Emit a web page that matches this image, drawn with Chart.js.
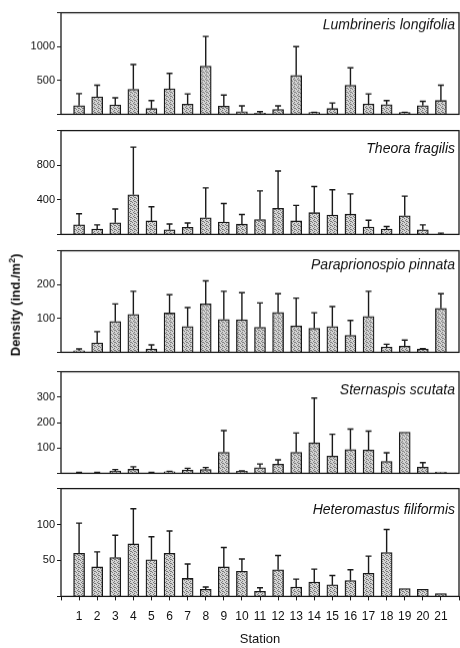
<!DOCTYPE html>
<html>
<head>
<meta charset="utf-8">
<script src="https://cdn.jsdelivr.net/npm/chart.js@4"></script>
<style>
  body { margin: 0; background: #fff; }
  #wrap { position: relative; width: 460px; height: 648px; overflow: hidden; }
  #wrap canvas { position: absolute; left: 0; }
  #ytitle {
    position: absolute; left: 15px; top: 305px;
    transform: translate(-50%, -50%) rotate(-90deg);
    white-space: nowrap;
    font: bold 13px "Liberation Sans", Arial, sans-serif; color: #111;
  }
  #ytitle sup { font-size: 9px; }
</style>
</head>
<body>
<div id="wrap">
  <canvas id="c1"></canvas>
  <canvas id="c2"></canvas>
  <canvas id="c3"></canvas>
  <canvas id="c4"></canvas>
  <canvas id="c5"></canvas>
  <div id="ytitle">Density (ind./m<sup>2</sup>)</div>
</div>
<script>
// stations along the x axis
const stations = [1, 2, 3, 4, 5, 6, 7, 8, 9, 10, 11, 12, 13, 14, 15, 16, 17, 18, 19, 20, 21];

// mean density and mean + SD (top of error bar), ind./m2
const lumbrineris    = [129, 257, 138, 371, 85, 376, 151, 712, 119, 40, 18, 71, 575, 27, 85, 429, 155, 142, 27, 129, 204];
const lumbrinerisErr = [305, 430, 244, 735, 204, 606, 301, 1150, 284, 124, 40, 124, 1000, 30, 168, 686, 301, 204, 30, 191, 430];

const theora    = [110, 61, 135, 457, 156, 54, 82, 192, 142, 118, 171, 301, 156, 251, 224, 234, 86, 61, 216, 54, 5];
const theoraErr = [238, 110, 294, 1009, 319, 121, 132, 538, 358, 230, 503, 733, 336, 553, 517, 468, 163, 92, 442, 110, 15];

const paraprionospio    = [5, 28, 91, 112, 10, 116, 76, 143, 97, 96, 74, 118, 78, 71, 76, 50, 106, 16, 18, 10, 130];
const paraprionospioErr = [10, 61, 143, 180, 22, 170, 132, 211, 180, 176, 146, 173, 160, 117, 135, 94, 180, 24, 36, 11, 173];

const sternaspis    = [0, 0, 9, 16, 0, 6, 13, 15, 83, 8, 22, 36, 83, 120, 68, 94, 92, 47, 162, 24, 5];
const sternaspisErr = [4, 4, 15, 26, 4, 8, 20, 23, 168, 10, 37, 53, 159, 296, 154, 174, 166, 81, 162, 42, 5];

const heteromastus    = [60, 41, 54, 73, 51, 60, 25, 10, 41, 35, 7, 37, 13, 20, 16, 22, 32, 61, 11, 10, 4];
const heteromastusErr = [102, 62, 85, 122, 83, 91, 45, 13, 68, 52, 12, 57, 24, 38, 29, 37, 56, 93, 11, 10, 4];

// y axis: top of scale, step, labelled ticks
const yMax   = [1500, 1200, 300, 400, 150];
const yStep  = [500, 400, 100, 100, 50];
const yShown = [[500, 1000], [400, 800], [100, 200], [100, 200, 300], [50, 100]];

const titles = ["Lumbrineris longifolia", "Theora fragilis", "Paraprionospio pinnata",
                "Sternaspis scutata", "Heteromastus filiformis"];

const FONT = '"Liberation Sans", Arial, sans-serif';

// stippled grey fill like the printed bars
function stipple() {
  const p = document.createElement("canvas");
  p.width = 4; p.height = 4;
  const g = p.getContext("2d");
  g.fillStyle = "#d4d4d4";
  g.fillRect(0, 0, 4, 4);
  g.fillStyle = "#7a7a7a";
  [[0, 0], [2, 1], [1, 2], [3, 3], [2, 3]].forEach(([x, y]) => g.fillRect(x, y, 1, 1));
  return g.createPattern(p, "repeat");
}

// upper error bars drawn from the y scale
const errorBars = {
  id: "errorBars",
  afterDatasetsDraw(chart, args, opts) {
    const ctx = chart.ctx;
    const y = chart.scales.y;
    const meta = chart.getDatasetMeta(0);
    ctx.save();
    ctx.strokeStyle = "#1a1a1a";
    ctx.lineWidth = 1.4;
    opts.tops.forEach((top, i) => {
      const bar = meta.data[i];
      if (top <= chart.data.datasets[0].data[i].y) return;
      const yt = y.getPixelForValue(top);
      ctx.beginPath();
      ctx.moveTo(bar.x, bar.y);
      ctx.lineTo(bar.x, yt);
      ctx.moveTo(bar.x - 3, yt);
      ctx.lineTo(bar.x + 3, yt);
      ctx.stroke();
    });
    ctx.restore();
  }
};

// panel frame and species name
const panelFrame = {
  id: "panelFrame",
  afterDraw(chart, args, opts) {
    const { ctx, chartArea: a } = chart;
    ctx.save();
    ctx.strokeStyle = "#1a1a1a";
    ctx.lineWidth = 1.3;
    ctx.strokeRect(a.left, a.top, a.right - a.left, a.bottom - a.top);
    ctx.fillStyle = "#111";
    ctx.font = "italic 14px " + FONT;
    ctx.textAlign = "right";
    ctx.textBaseline = "middle";
    ctx.fillText(opts.text, a.right - 4, a.top + opts.offset);
    ctx.restore();
  }
};

// panel placement: top of plot area and zero line
const panelTop    = [7, 125, 245, 366, 483];
const panelBottom = [119.7, 240.4, 357.9, 478.6, 596.4];
const titleOffset = [13, 19, 15, 19, 22];

const series = [lumbrineris, theora, paraprionospio, sternaspis, heteromastus];
const errs   = [lumbrinerisErr, theoraErr, paraprionospioErr, sternaspisErr, heteromastusErr];

series.forEach((vals, p) => {
  const last = p === series.length - 1;
  const el = document.getElementById("c" + (p + 1));
  const canvasTop = panelTop[p] - 3;
  const height = last ? 648 - canvasTop : panelBottom[p] - canvasTop + 3;
  el.style.top = canvasTop + "px";
  el.style.width = "460px";
  el.style.height = height + "px";
  el.width = 460;
  el.height = height;

  new Chart(el.getContext("2d"), {
    type: "bar",
    data: {
      datasets: [{
        data: stations.map((s, i) => ({ x: s, y: vals[i] })),
        backgroundColor: stipple(),
        borderColor: "#1a1a1a",
        borderWidth: 1.3,
        barThickness: 11
      }]
    },
    options: {
      responsive: false,
      animation: false,
      layout: { padding: { top: 3, right: 1, left: 0, bottom: last ? 0 : 3 } },
      plugins: {
        legend: { display: false },
        tooltip: { enabled: false },
        errorBars: { tops: errs[p] },
        panelFrame: { text: titles[p], offset: titleOffset[p] }
      },
      scales: {
        x: {
          type: "linear",
          min: 0,
          max: 22,
          offset: false,
          display: last,
          afterFit: s => {
            s.height = last ? 648 - panelBottom[p] : 0;
            s.paddingLeft = 0;
            s.paddingRight = 0;
          },
          border: { display: false },
          grid: { offset: false, drawOnChartArea: false, tickLength: 4, color: "#1a1a1a" },
          ticks: {
            stepSize: 1,
            autoSkip: false,
            maxRotation: 0,
            minRotation: 0,
            padding: 9,
            color: "#111",
            font: { family: FONT, size: 12 },
            callback: v => (v >= 1 && v <= 21 ? String(v) : "")
          },
          title: {
            display: last,
            text: "Station",
            color: "#111",
            font: { family: FONT, size: 13 },
            padding: { top: 0, bottom: 1 }
          }
        },
        y: {
          min: 0,
          max: yMax[p],
          afterFit: s => { s.width = 61; },
          border: { display: false },
          grid: { drawOnChartArea: false, tickLength: 4, color: "#1a1a1a" },
          ticks: {
            stepSize: yStep[p],
            padding: 2,
            color: "#111",
            font: { family: FONT, size: 11 },
            callback: v => (yShown[p].includes(v) ? String(v) : "")
          }
        }
      }
    },
    plugins: [errorBars, panelFrame]
  });
});
</script>
</body>
</html>
